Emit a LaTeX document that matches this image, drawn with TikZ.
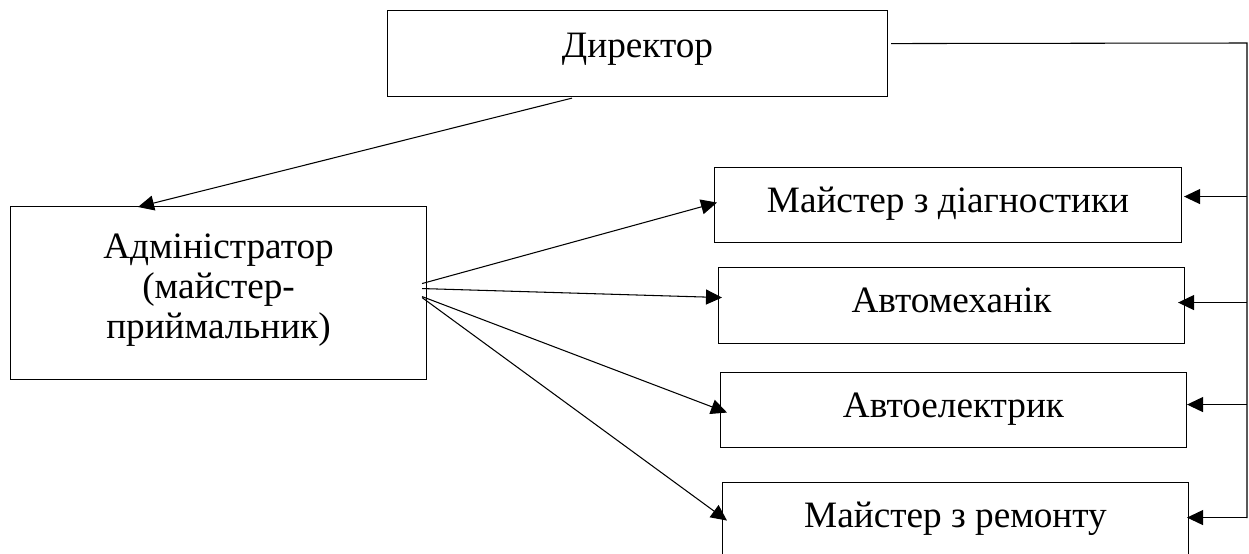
\documentclass[tikz,border=0pt]{standalone}
\usepackage{fontspec}
\setmainfont{Liberation Serif}
\usetikzlibrary{arrows.meta,calc}
\tikzset{
  unitbox/.style={draw, line width=0.65pt, inner sep=0pt, anchor=north west, align=center,
    font=\fontsize{21.2}{22.8}\selectfont},
  linkarr/.style={line width=0.6pt, -{Triangle[length=0.32cm,width=0.3cm]}},
  busline/.style={line width=0.6pt},
}
\begin{document}
\begin{tikzpicture}[x=0.02cm,y=-0.02cm]
            \clip (0,0) rectangle (1249,554);
            
            % Director box
            \node [unitbox, minimum width=10cm, text height=0.94cm, text depth=0.78cm] (dir) at (387,10) {Директор};%
            
            % Administrator box
            \node [unitbox, minimum width=8.32cm, text height=2.64cm, text depth=0.82cm] (adm) at (10,206) {Адміністратор\\(майстер-\\приймальник)};%
            
            % Staff boxes
            \node [unitbox, minimum width=9.34cm, text height=0.9cm, text depth=0.6cm] (diag) at (714,167) {Майстер з діагностики};%
            \node [unitbox, minimum width=9.32cm, text height=0.9cm, text depth=0.62cm] (mech) at (718,267) {Автомеханік};%
            \node [unitbox, minimum width=9.32cm, text height=0.9cm, text depth=0.6cm] (elec) at (720,372) {Автоелектрик};%
            \node [unitbox, minimum width=9.32cm, text height=0.9cm, text depth=0.6cm] (rep) at (722,482) {Майстер з ремонту};%
            
            % Director to administrator
            \draw [linkarr] ($(dir.south west)+(185,1)$) -- ($(adm.north west)+(128,1)$);%
            
            % Administrator to staff
            \foreach \unit/\dy/\ex/\ey in {diag/-9.5/3/-2.5, mech/-4.5/4/-8, elec/3.5/7/2.5, rep/4.5/5/0.5}
              \draw [linkarr] ($(adm.east)+(-5,\dy)$) -- ($(\unit.west)+(\ex,\ey)$);%
            
            % Director bus on the right
            \coordinate (bustop) at (1247,43);
            \coordinate (busend) at (1247,518);
            \draw [busline] ($(dir.east)+(3,-10)$) -- (bustop) -- (busend);%
            \foreach \unit/\tx/\ty in {diag/2/-8.5, mech/-7/-3, elec/0/-5.5, rep/-2/-2.5} {
              \coordinate (tip) at ($(\unit.east)+(\tx,\ty)$);
              \draw [linkarr] (bustop |- tip) -- (tip);%
            }
\end{tikzpicture}
\end{document}
